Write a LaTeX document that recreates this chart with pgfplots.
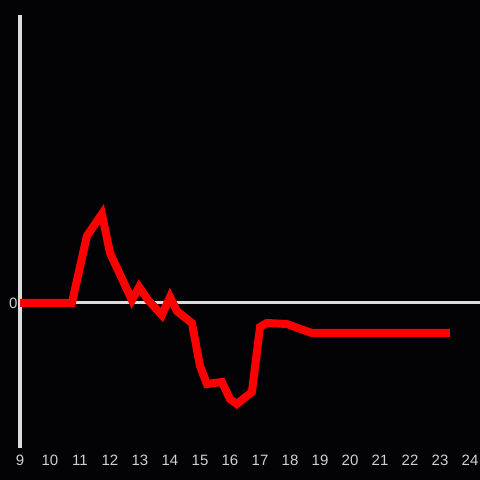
\documentclass[border=0pt]{standalone}
\usepackage{pgfplots}
\pgfplotsset{compat=1.18}
\usepackage{fontspec}
\setmainfont{Liberation Sans}
\definecolor{bg}{HTML}{030205}
\definecolor{axgray}{HTML}{DDDDDD}
\definecolor{lblgray}{HTML}{D0D0D0}
\begin{document}
\begin{tikzpicture}
\fill[bg] (-20bp,-32bp) rectangle (460bp,448bp);
\useasboundingbox (-20bp,-32bp) rectangle (460bp,448bp);
\begin{axis}[
  anchor=south west, at={(0,0)},
  scale only axis, width=460bp, height=433bp,
  xmin=9, xmax=24.3333, ymin=-145, ymax=288,
  axis lines*=left,
  axis line style={draw=none},
  xtick={9,10,...,24}, ytick={0},
  major tick length=0pt,
  tick style={draw=none},
  tick label style={font=\fontsize{15bp}{17bp}\selectfont, text=lblgray},
  /pgf/number format/assume math mode=true,
  xticklabel style={yshift=-4bp},
  yticklabel style={xshift=1bp},
  clip=false,
]
\draw[axgray, line width=3bp] (axis cs:9,-145) -- (axis cs:9,288);
\draw[axgray, line width=3bp] (axis cs:9,0) -- (axis cs:24.3333,0);
\addplot[red, line width=8bp, mark=none] coordinates {
(9,0) (10.73,0) (11.23,67) (11.73,89) (12.0,50) (12.73,3) (12.97,16) (13.27,3)
(13.73,-12) (14.0,6) (14.23,-8) (14.73,-20) (15.0,-63) (15.23,-81) (15.73,-79)
(16.0,-96) (16.23,-101) (16.73,-89) (17.0,-24) (17.23,-20) (17.9,-21) (18.17,-24)
(18.73,-30) (23.33,-30)
};
\end{axis}
\end{tikzpicture}
\end{document}
